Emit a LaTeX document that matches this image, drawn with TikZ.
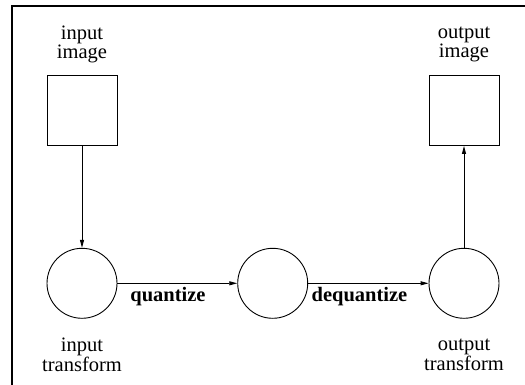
\documentclass[tikz,border=0pt]{standalone}
\usepackage{fontspec}
\setmainfont{Liberation Serif}
\usetikzlibrary{arrows.meta}
\begin{document}
\begin{tikzpicture}[x=1pt,y=-1pt,
  lbl/.style={font=\fontsize{20.5}{17}\selectfont, align=center, inner sep=0pt},
  oplbl/.style={font=\fontsize{20.5}{17}\selectfont\bfseries, inner sep=0pt, anchor=base},
  imgbox/.style={draw, line width=0.9pt, minimum width=70pt, minimum height=70pt, inner sep=0pt},
  xform/.style={draw, circle, line width=0.9pt, minimum size=70pt, inner sep=0pt},
  flow/.style={line width=0.9pt, -{Triangle[length=8pt,width=4pt]}}]
  \useasboundingbox (0,0) rectangle (525,385);
  % outer frame, open on the right and bottom
  \draw[line width=2pt] (12,386) -- (12,6) -- (526,6);

  % images
  \node[imgbox] (inimg) at (82,110.5) {};
  \node[imgbox] (outimg) at (464,110.5) {};
  \node[lbl] (inimglbl) at (82,44) {input\\image};
  \node[lbl] (outimglbl) at (464,44) {output\\image};

  % transforms
  \node[xform] (intr) at (82,283.3) {};
  \node[xform] (mid) at (272.7,283.3) {};
  \node[xform] (outtr) at (464,283.3) {};
  \node[lbl] (intrlbl) at (82,355) {input\\transform};
  \node[lbl] (outtrlbl) at (464,355) {output\\transform};

  % connectors
  \draw[flow] (inimg.south) -- (intr.north);
  \draw[flow] (intr.east) -- (mid.west);
  \draw[flow] (mid.east) -- (outtr.west);
  \draw[flow] (outtr.north) -- (outimg.south);

  \node[oplbl] (q) at (168,301) {quantize};
  \node[oplbl] (dq) at (359.5,301) {dequantize};
\end{tikzpicture}
\end{document}
